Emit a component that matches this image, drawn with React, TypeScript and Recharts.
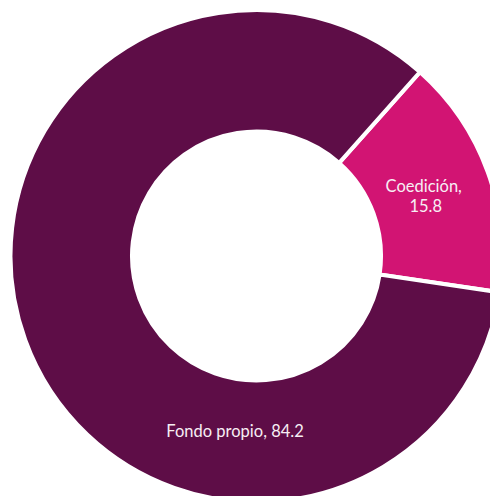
import React from "react";
import { PieChart, Pie, Cell } from "recharts";

const categories = ["Coedición", "Fondo propio"];
const values = [15.8, 84.2];
const colors = ["#D21473", "#5E0D47"];

const data = categories.map((name, i) => ({ name, value: values[i] }));

const RAD = Math.PI / 180;

const renderLabel = (props: any) => {
  const { cx, cy, midAngle, index } = props;
  const name = categories[index];
  const value = values[index];
  const style = { fontFamily: "Lato, 'Noto Sans', sans-serif", fontSize: 16.5, fill: "#f7eef4" };
  if (index === 0) {
    const r = 180;
    const x = cx + r * Math.cos(-midAngle * RAD);
    const y = cy + r * Math.sin(-midAngle * RAD);
    return (
      <text x={x} y={y} textAnchor="middle" style={style}>
        <tspan x={x - 2} dy={-3}>{name},</tspan>
        <tspan x={x} dy={20}>{value.toFixed(1)}</tspan>
      </text>
    );
  }
  const ang = 263;
  const r = 176;
  const x = cx + r * Math.cos(-ang * RAD);
  const y = cy + r * Math.sin(-ang * RAD);
  return (
    <text x={x} y={y} textAnchor="middle" dominantBaseline="central" style={style}>
      {name}, {value.toFixed(1)}
    </text>
  );
};

export default function App() {
  return (
    <div style={{ width: 490, height: 496, overflow: "hidden" }}>
      <style>{`html,body{margin:0;padding:0;overflow:hidden;}`}</style>
      <PieChart width={490} height={496} margin={{ top: 0, right: 0, bottom: 0, left: 0 }}>
        <Pie
          data={data}
          dataKey="value"
          nameKey="name"
          cx={256.5}
          cy={256}
          innerRadius={124.5}
          outerRadius={246}
          startAngle={-8.5}
          endAngle={351.5}
          stroke="#ffffff"
          strokeWidth={4}
          label={renderLabel}
          labelLine={false}
          isAnimationActive={false}
        >
          {data.map((d, i) => (
            <Cell key={d.name} fill={colors[i]} />
          ))}
        </Pie>
      </PieChart>
    </div>
  );
}
